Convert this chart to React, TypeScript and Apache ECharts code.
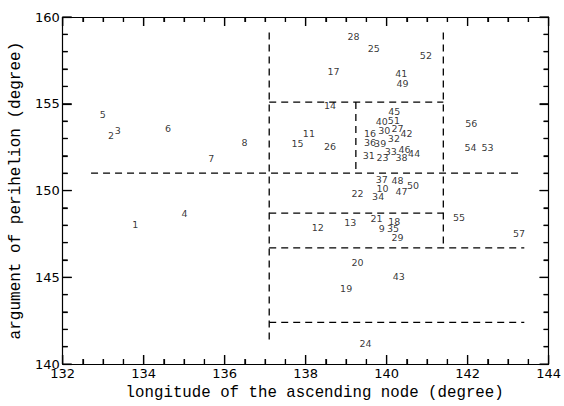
import React, { useEffect, useRef } from "react";
import * as echarts from "echarts";

// Object numbers plotted at (longitude of ascending node, argument of perihelion)
const objectIds = [
  1, 2, 3, 4, 5, 6, 7, 8, 9, 10, 11, 12, 13, 14, 15, 16, 17, 18, 19, 20,
  21, 22, 23, 24, 25, 26, 27, 28, 29, 30, 31, 32, 33, 34, 35, 36, 37, 38, 39, 40,
  41, 42, 43, 44, 45, 46, 47, 48, 49, 50, 51, 52, 53, 54, 55, 56, 57,
];
const nodeLongitude = [
  133.79, 133.19, 133.36, 135.01, 132.99, 134.6, 135.67, 136.49, 139.88, 139.9,
  138.08, 138.3, 139.1, 138.6, 137.8, 139.59, 138.69, 140.19, 139.0, 139.28,
  139.75, 139.28, 139.9, 139.48, 139.68, 138.6, 140.27, 139.18, 140.27, 139.94,
  139.56, 140.18, 140.1, 139.79, 140.16, 139.59, 139.88, 140.37, 139.84, 139.88,
  140.36, 140.49, 140.3, 140.68, 140.19, 140.44, 140.37, 140.27, 140.39, 140.65,
  140.18, 140.97, 142.49, 142.07, 141.79, 142.09, 143.27,
];
const perihelionArg = [
  148.04, 153.16, 153.47, 148.68, 154.38, 153.57, 151.84, 152.78, 147.8, 150.09,
  153.29, 147.89, 148.17, 154.88, 152.69, 153.29, 156.88, 148.23, 144.38, 145.88,
  148.4, 149.81, 151.9, 141.16, 158.18, 152.56, 153.59, 158.85, 147.27, 153.47,
  152.03, 153.01, 152.27, 149.68, 147.8, 152.78, 150.65, 151.88, 152.72, 153.96,
  156.73, 153.29, 145.07, 152.16, 154.57, 152.35, 149.96, 150.58, 156.16, 150.28,
  154.04, 157.76, 152.46, 152.46, 148.45, 153.87, 147.55,
];

// Dashed group boundaries: [x1, y1, x2, y2] in degrees
const boundaryLines = [
  [132.7, 151.0, 143.3, 151.0],
  [137.1, 159.1, 137.1, 141.4],
  [141.4, 159.1, 141.4, 146.7],
  [137.1, 155.1, 141.4, 155.1],
  [139.24, 155.1, 139.24, 151.0],
  [137.1, 148.7, 141.4, 148.7],
  [137.1, 146.7, 143.4, 146.7],
  [137.1, 142.4, 143.4, 142.4],
];

// Tick positions on the frame
const xMajorTicks = [132, 134, 136, 138, 140, 142, 144];
const xMinorTicks = [
  132.5, 133, 133.5, 134.5, 135, 135.5, 136.5, 137, 137.5,
  138.5, 139, 139.5, 140.5, 141, 141.5, 142.5, 143, 143.5,
];
const yMajorTicks = [140, 145, 150, 155, 160];
const yMinorTicks = [141, 142, 143, 144, 146, 147, 148, 149, 151, 152, 153, 154, 156, 157, 158, 159];

const xTitle = "longitude of the ascending node (degree)";
const yTitle = "argument of perihelion (degree)";

const X_MIN = 132;
const X_MAX = 144;
const Y_MIN = 140;
const Y_MAX = 160;

const MAJOR_LEN = 9;
const MINOR_LEN = 5;

export default function App() {
  const ref = useRef<HTMLDivElement>(null);

  useEffect(() => {
    if (!ref.current) return;
    const chart = echarts.init(ref.current, null, { renderer: "svg" });

    const points = objectIds.map((id, i) => [nodeLongitude[i], perihelionArg[i], id]);

    const tickLine = { color: "#000", width: 1.2 };
    const frameAxis = (min: number, max: number, interval: number, minorSplit: number, position: string) => ({
      type: "value",
      position,
      min,
      max,
      interval,
      axisLine: { show: true, lineStyle: { color: "#000", width: 1.2 } },
      axisTick: { show: true, inside: true, length: MAJOR_LEN, lineStyle: tickLine },
      minorTick: { show: true, splitNumber: minorSplit, length: MINOR_LEN, lineStyle: tickLine },
      splitLine: { show: false },
    });

    chart.setOption({
      animation: false,
      grid: { left: 53, right: 9, top: 17, bottom: 34 },
      xAxis: [
        {
          ...frameAxis(X_MIN, X_MAX, 2, 4, "bottom"),
          axisLabel: { fontFamily: "DejaVu Sans", fontSize: 13, color: "#000", margin: 3 },
          name: xTitle,
          nameLocation: "middle",
          nameGap: 15,
          nameTextStyle: {
            fontFamily: "Liberation Mono",
            fontSize: 15.75,
            color: "#000",
            padding: [0, 0, 0, 18],
          },
        },
        {
          ...frameAxis(X_MIN, X_MAX, 2, 4, "top"),
          axisLabel: { show: false },
        },
      ],
      yAxis: [
        {
          ...frameAxis(Y_MIN, Y_MAX, 5, 5, "left"),
          axisLabel: { fontFamily: "DejaVu Sans", fontSize: 13, color: "#000", margin: 3 },
          name: yTitle,
          nameLocation: "middle",
          nameGap: 28,
          nameTextStyle: {
            fontFamily: "Liberation Mono",
            fontSize: 16,
            color: "#000",
          },
        },
        {
          ...frameAxis(Y_MIN, Y_MAX, 5, 5, "right"),
          axisLabel: { show: false },
        },
      ],
      series: [
        ...boundaryLines.map((seg) => ({
          type: "line",
          xAxisIndex: 0,
          yAxisIndex: 0,
          data: [
            [seg[0], seg[1]],
            [seg[2], seg[3]],
          ],
          symbol: "none",
          silent: true,
          lineStyle: { color: "#000", width: 1.3, type: [7, 5] },
        })),
        {
          type: "scatter",
          xAxisIndex: 0,
          yAxisIndex: 0,
          data: points,
          symbolSize: 1,
          itemStyle: { color: "rgba(0,0,0,0)" },
          label: {
            show: true,
            position: "inside",
            formatter: (p: any) => String(p.value[2]),
            fontFamily: "DejaVu Sans",
            fontSize: 9.5,
            color: "#000",
            align: "center",
            verticalAlign: "middle",
          },
        },
      ],
    });

    // Inward frame ticks, placed through the axes' own scales
    const toPx = (x: number, y: number) =>
      chart.convertToPixel({ xAxisIndex: 0, yAxisIndex: 0 }, [x, y]) as number[];
    const tickGraphics: any[] = [];
    const style = { stroke: "#000", lineWidth: 1.2 };
    const pushX = (v: number, len: number) => {
      const b = toPx(v, Y_MIN);
      const t = toPx(v, Y_MAX);
      tickGraphics.push({ type: "line", z: 100, silent: true, shape: { x1: b[0], y1: b[1], x2: b[0], y2: b[1] - len }, style });
      tickGraphics.push({ type: "line", z: 100, silent: true, shape: { x1: t[0], y1: t[1], x2: t[0], y2: t[1] + len }, style });
    };
    const pushY = (v: number, len: number) => {
      const l = toPx(X_MIN, v);
      const r = toPx(X_MAX, v);
      tickGraphics.push({ type: "line", z: 100, silent: true, shape: { x1: l[0], y1: l[1], x2: l[0] + len, y2: l[1] }, style });
      tickGraphics.push({ type: "line", z: 100, silent: true, shape: { x1: r[0], y1: r[1], x2: r[0] - len, y2: r[1] }, style });
    };
    xMajorTicks.forEach((v) => pushX(v, MAJOR_LEN));
    xMinorTicks.forEach((v) => pushX(v, MINOR_LEN));
    yMajorTicks.forEach((v) => pushY(v, MAJOR_LEN));
    yMinorTicks.forEach((v) => pushY(v, MINOR_LEN));
    chart.setOption({ graphic: tickGraphics });

    return () => chart.dispose();
  }, []);

  return (
    <div
      ref={ref}
      style={{ position: "absolute", left: 0, top: 0, width: 564, height: 406, background: "#fff" }}
    />
  );
}
